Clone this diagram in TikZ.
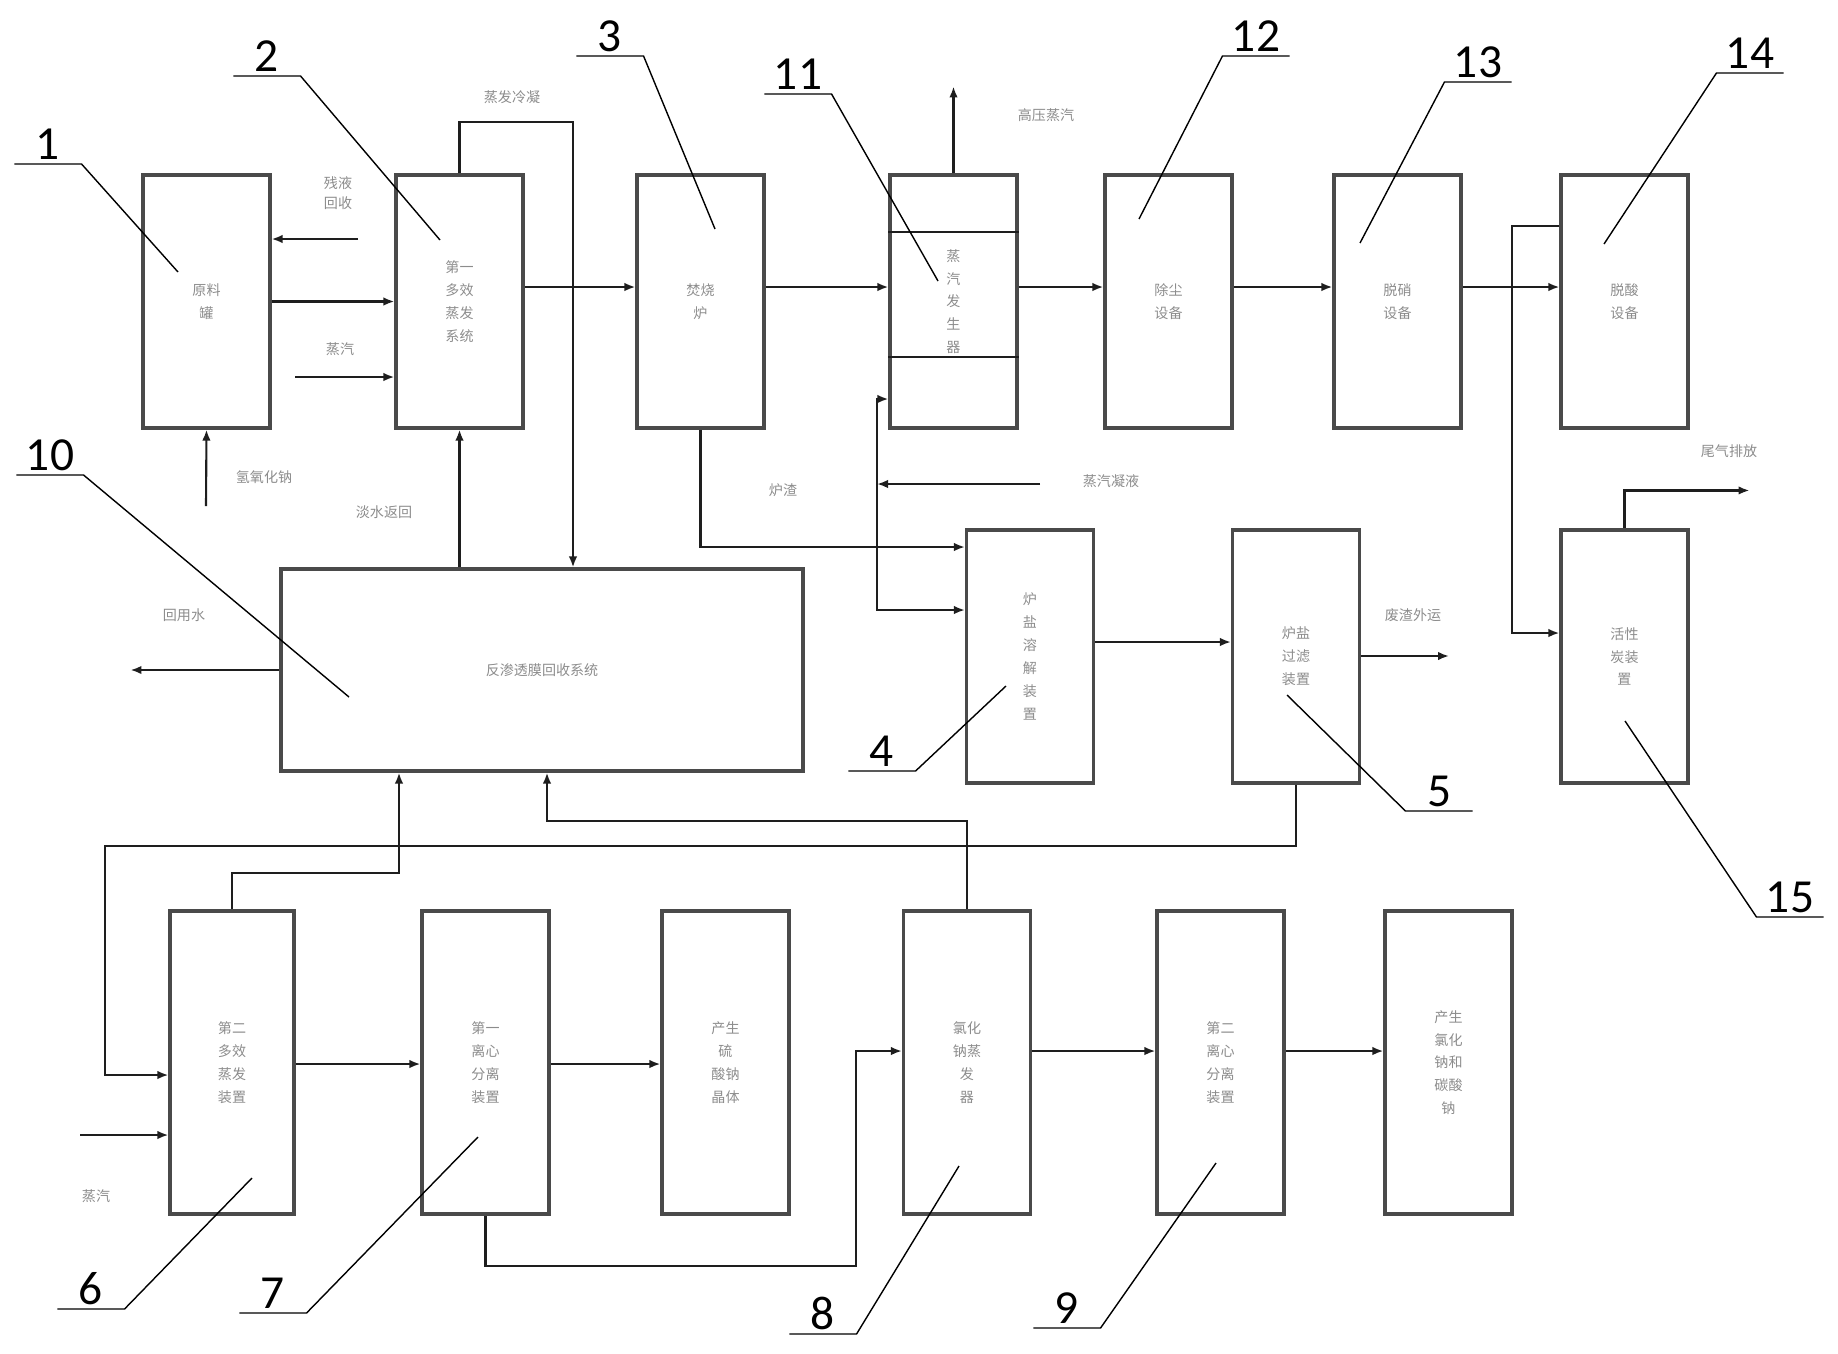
\documentclass[tikz,border=0pt]{standalone}
\usepackage{fontspec}
\setmainfont{Carlito}
\newfontfamily\cjk{Noto Sans CJK SC}
\usetikzlibrary{arrows.meta, calc}
\definecolor{cbox}{HTML}{4A4A4A}
\definecolor{cline}{HTML}{1E1E1E}
\definecolor{ctext}{HTML}{8C8C8C}
\tikzset{
  every picture/.style={line width=1.2pt},
  unit/.style={draw=cbox, line width=1.8pt, minimum width=2.54cm, minimum height=5.06cm, inner sep=0pt, align=center, font=\cjk\fontsize{8}{13}\selectfont, text=ctext},
  tall/.style={unit, minimum height=6.06cm},
  flow/.style={-{Latex[length=2.2mm, width=1.7mm]}, draw=cline, line width=1.2pt},
  pipe/.style={draw=cline, line width=1.2pt},
  tag/.style={font=\fontsize{27}{30}\selectfont, anchor=south, inner xsep=0pt, inner ysep=2pt, minimum width=1.3cm},
  leader/.style={draw=black, line width=0.8pt},
  note/.style={font=\cjk\fontsize{8}{11}\selectfont, text=ctext, align=center},
}

\begin{document}
\begin{tikzpicture}[x=0.02cm, y=-0.02cm]
  \useasboundingbox (0,0) rectangle (1838,1353);
  % row 1
  \node[unit] (raw) at (206.5,301.5) {原料\\罐};
  \node[unit] (evap1) at (459.5,301.5) {第一\\多效\\蒸发\\系统};
  \node[unit] (furn) at (700.5,301.5) {焚烧\\炉};
  \node[unit] (steam) at (953.5,301.5) {蒸\\汽\\发\\生\\器};
  \node[unit] (dust) at (1168.5,301.5) {除尘\\设备};
  \node[unit] (denox) at (1397.5,301.5) {脱硝\\设备};
  \node[unit] (acid) at (1624.5,301.5) {脱酸\\设备};
  \draw[pipe, line width=1.4pt] (steam.west |- 0,232) -- (steam.east |- 0,232);
  \draw[pipe, line width=1.4pt] (steam.west |- 0,357) -- (steam.east |- 0,357);
  % row 2
  \node[unit, minimum width=10.44cm, minimum height=4.04cm] (ro) at (542,670) {反渗透膜回收系统};
  \node[unit] (dissolve) at (1030,656.5) {炉\\盐\\溶\\解\\装\\置};
  \node[unit] (filter) at (1296,656.5) {炉盐\\过滤\\装置};
  \node[unit] (carbon) at (1624.5,656.5) {活性\\炭装\\置};
  % row 3
  \node[tall, minimum width=2.48cm] (evap2) at (232,1062.5) {第二\\多效\\蒸发\\装置};
  \node[tall] (cent1) at (485.5,1062.5) {第一\\离心\\分离\\装置};
  \node[tall] (prod1) at (725.5,1062.5) {产生\\硫\\酸钠\\晶体};
  \node[tall] (nacl) at (967,1062.5) {氯化\\钠蒸\\发\\器};
  \node[tall] (cent2) at (1220.5,1062.5) {第二\\离心\\分离\\装置};
  \node[tall] (prod2) at (1448.5,1062.5) {产生\\氯化\\钠和\\碳酸\\钠};

  % flows, row 1
  \coordinate (r1) at (0,287);
  \draw[flow] (raw.east) -- (evap1.west);
  \draw[flow] (evap1.east |- r1) -- (furn.west |- r1);
  \draw[flow] (furn.east |- r1) -- (steam.west |- r1);
  \draw[flow] (steam.east |- r1) -- (dust.west |- r1);
  \draw[flow] (dust.east |- r1) -- (denox.west |- r1);
  \draw[flow] (denox.east |- r1) -- (acid.west |- r1);
  \draw[flow] (358,239) -- (raw.east |- 0,239);
  \draw[flow] (295,377) -- (evap1.west |- 0,377);
  \draw[flow] (206,506) -- (raw.south);
  \draw[flow] (steam.north) -- ++(0,-87);
  \coordinate (cx) at (573,122);
  \draw[flow] (evap1.north) |- (cx) -- (cx |- ro.north);
  \draw[flow] (ro.north -| evap1) -- (evap1.south);
  \draw[flow] (ro.west) -- ++(-149,0);
  \coordinate (c14) at (1512,226);
  \draw[flow] (acid.west |- c14) -- (c14) |- (carbon.west |- 0,633);
  \draw[flow] (carbon.north) -- ++(0,-38) -- ++(125,0);

  % flows, row 2
  \draw[flow] (furn.south) |- (dissolve.west |- 0,547);
  \coordinate (jn) at (877,484);
  \draw[flow] (jn) |- (steam.west |- 0,399);
  \draw[flow] (jn) |- (dissolve.west |- 0,610);
  \draw[flow] (1040,484) -- (jn);
  \draw[flow] (dissolve.east |- 0,642) -- (filter.west |- 0,642);
  \draw[flow] (filter.east |- 0,656) -- ++(88,0);
  \coordinate (c5) at (105,846);
  \draw[flow] (filter.south) |- (c5) |- (evap2.west |- 0,1075);
  \coordinate (c6) at (399,873);
  \draw[flow] (evap2.north) |- (c6) -- (c6 |- ro.south);
  \coordinate (c8) at (547,821);
  \draw[flow] (nacl.north) |- (c8) -- (c8 |- ro.south);

  % flows, row 3
  \coordinate (r3) at (0,1064);
  \coordinate (r4) at (0,1051);
  \draw[flow] (evap2.east |- r3) -- (cent1.west |- r3);
  \draw[flow] (cent1.east |- r3) -- (prod1.west |- r3);
  \draw[flow] (80,1135) -- (evap2.west |- 0,1135);
  \coordinate (c7) at (856,1266);
  \draw[flow] (cent1.south) |- (c7) |- (nacl.west |- r4);
  \draw[flow] (nacl.east |- r4) -- (cent2.west |- r4);
  \draw[flow] (cent2.east |- r4) -- (prod2.west |- r4);

  % stream notes
  \node[note] (n1) at (338,193) {残液\\回收};
  \node[note] (n2) at (340,349) {蒸汽};
  \node[note] (n3) at (264,477) {氢氧化钠};
  \node[note] (n4) at (512,97) {蒸发冷凝};
  \node[note] (n5) at (384,512) {淡水返回};
  \node[note] (n6) at (184,615) {回用水};
  \node[note] (n7) at (1046,115) {高压蒸汽};
  \node[note] (n8) at (783,490) {炉渣};
  \node[note] (n9) at (1111,481) {蒸汽凝液};
  \node[note] (n10) at (1413,615) {废渣外运};
  \node[note] (n11) at (1729,451) {尾气排放};
  \node[note] (n12) at (96,1196) {蒸汽};

  % reference numbers
  \node[tag] (t1) at (48,164) {1};
  \node[tag] (t2) at (267,76) {2};
  \node[tag] (t3) at (610,56) {3};
  \node[tag] (t11) at (798,94) {11};
  \node[tag] (t12) at (1256,56) {12};
  \node[tag] (t13) at (1478,82) {13};
  \node[tag] (t14) at (1750,73) {14};
  \node[tag] (t10) at (50,475) {10};
  \node[tag] (t4) at (882,771) {4};
  \node[tag] (t5) at (1439,811) {5};
  \node[tag] (t15) at (1790,917) {15};
  \node[tag] (t6) at (91,1309) {6};
  \node[tag] (t7) at (273,1313) {7};
  \node[tag] (t8) at (823,1334) {8};
  \node[tag] (t9) at (1067,1328) {9};
  \draw[leader] (t1.south west) -- (t1.south east) -- ($(raw)+(-28.5,-29.5)$);
  \draw[leader] (t2.south west) -- (t2.south east) -- ($(evap1)+(-19.5,-61.5)$);
  \draw[leader] (t3.south west) -- (t3.south east) -- ($(furn)+(14.5,-72.5)$);
  \draw[leader] (t11.south west) -- (t11.south east) -- ($(steam)+(-15.5,-20.5)$);
  \draw[leader] (t12.south east) -- (t12.south west) -- ($(dust)+(-29.5,-82.5)$);
  \draw[leader] (t13.south east) -- (t13.south west) -- ($(denox)+(-37.5,-58.5)$);
  \draw[leader] (t14.south east) -- (t14.south west) -- ($(acid)+(-20.5,-57.5)$);
  \draw[leader] (t10.south west) -- (t10.south east) -- ($(ro)+(-193,27)$);
  \draw[leader] (t4.south west) -- (t4.south east) -- ($(dissolve)+(-24,29.5)$);
  \draw[leader] (t5.south east) -- (t5.south west) -- ($(filter)+(-9,38.5)$);
  \draw[leader] (t15.south east) -- (t15.south west) -- ($(carbon)+(0.5,64.5)$);
  \draw[leader] (t6.south west) -- (t6.south east) -- ($(evap2)+(20,115.5)$);
  \draw[leader] (t7.south west) -- (t7.south east) -- ($(cent1)+(-7.5,74.5)$);
  \draw[leader] (t8.south west) -- (t8.south east) -- ($(nacl)+(-8,103.5)$);
  \draw[leader] (t9.south west) -- (t9.south east) -- ($(cent2)+(-4.5,100.5)$);
\end{tikzpicture}
\end{document}
